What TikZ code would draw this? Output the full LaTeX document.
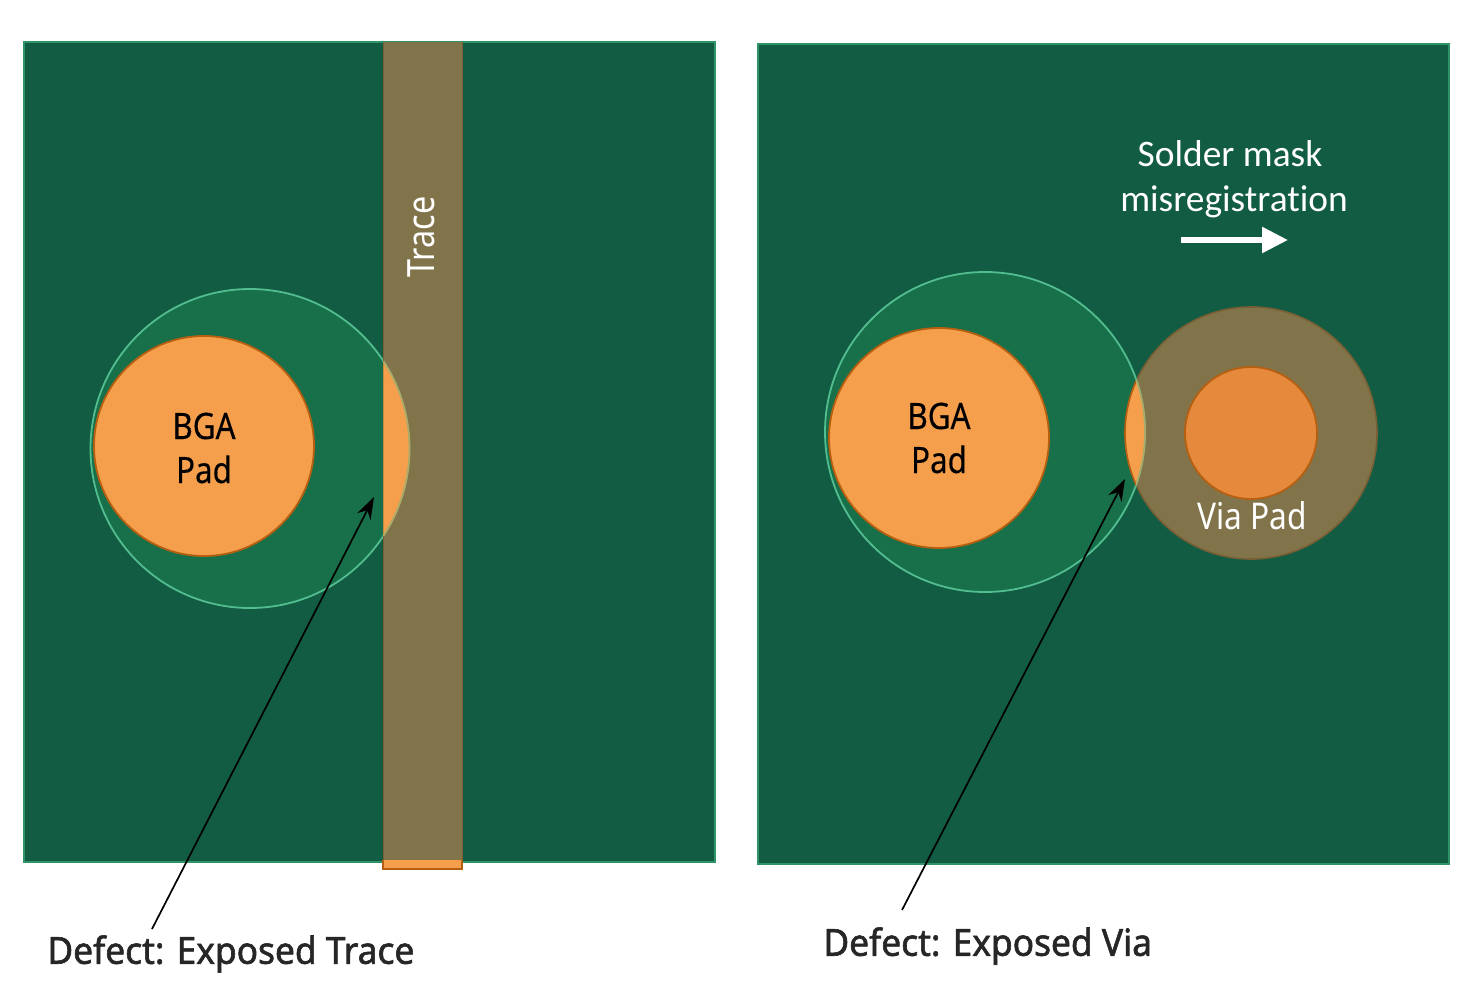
\documentclass[tikz,border=0pt]{standalone}
\usepackage{fontspec}
\setmainfont{Carlito}[Ligatures=NoCommon]
\newfontfamily\padfont{Noto Sans}[FakeStretch=0.86,FakeBold=0.25]
\newfontfamily\whitefont{Noto Sans}[FakeStretch=0.86]
\newfontfamily\labfont{Noto Sans}[FakeStretch=0.95,FakeBold=1.6]
\usetikzlibrary{arrows.meta}
\definecolor{mask}{HTML}{125C44}
\definecolor{maskedge}{HTML}{2F9467}
\definecolor{opening}{HTML}{18704A}
\definecolor{openedge}{HTML}{52BD8F}
\definecolor{copper}{HTML}{F59F4C}
\definecolor{copperedge}{HTML}{B65F10}
\definecolor{covered}{HTML}{82744A}
\definecolor{coverededge}{HTML}{7A5F35}
\definecolor{viacore}{HTML}{E5893C}
\tikzset{
  x=0.5pt,y=-0.5pt,
  maskpanel/.style={fill=mask,draw=maskedge,line width=1.2pt},
  openring/.style={fill=opening,draw=openedge,line width=0.9pt},
  padtxt/.style={font=\padfont\fontsize{18.2}{21}\selectfont,align=center,inner sep=0pt},
  deftxt/.style={font=\labfont\fontsize{18.6}{20}\selectfont,text=black!85,inner sep=0pt,anchor=west},
  calltxt/.style={font=\fontsize{18.7}{23}\selectfont,text=white,inner sep=0pt},
  callout/.style={draw=black,line width=0.85pt,-{Stealth[length=11pt,width=7.5pt]}},
}
\begin{document}
\begin{tikzpicture}
\useasboundingbox (0,0) rectangle (1467,991);
\fill[white] (0,0) rectangle (1467,991);
% left panel
\node[maskpanel,minimum width=345.5pt,minimum height=410pt,inner sep=0pt,anchor=north west] (panelL) at (23,41) {};
\node[openring,circle,minimum size=159.5pt,inner sep=0pt] (openL) at (250,448.5) {};
\fill[covered] (383,42) rectangle (462,860);
\draw[coverededge,line width=0.4pt] (383,42) -- (383,860) (462,42) -- (462,860);
\fill[copper] (383,860) rectangle (462,869);
\draw[copperedge,line width=0.8pt] (383,860) -- (383,869) -- (462,869) -- (462,860);
\fill[copper] plot[domain=-33.2:33.2,samples=40,smooth] ({250+159.5*cos(\x)},{448.5+159.5*sin(\x)}) -- cycle;
\draw[openedge!45!copper,line width=0.9pt] plot[domain=-33.2:33.2,samples=40,smooth] ({250+159.5*cos(\x)},{448.5+159.5*sin(\x)});
\node[circle,fill=copper,draw=copperedge,line width=0.9pt,minimum size=110pt,inner sep=0pt] (padL) at (204,446) {};
\node[padtxt] (padLt) at (204,448) {BGA\\[1pt]Pad};
\node[rotate=90,font=\whitefont\fontsize{18.8}{20}\selectfont,text=white,inner sep=0pt] (traceT) at (421,237) {Trace};
% right panel
\node[maskpanel,minimum width=345.5pt,minimum height=410pt,inner sep=0pt,anchor=north west] (panelR) at (757,43) {};
\node[circle,fill=covered,draw=coverededge,line width=0.8pt,minimum size=126pt,inner sep=0pt] (viaO) at (1251,433) {};
\node[openring,circle,minimum size=160pt,inner sep=0pt] (openR) at (985,432) {};
\begin{scope}
  \clip (985,432) circle[radius=160];
  \fill[copper,draw=copperedge,line width=0.8pt] (1251,433) circle[radius=126];
\end{scope}
\begin{scope}
  \clip (1251,433) circle[radius=126];
  \draw[openedge!45!copper,line width=0.9pt] (985,432) circle[radius=160];
\end{scope}
\node[circle,fill=viacore,draw=copperedge,line width=0.9pt,minimum size=66pt,inner sep=0pt] (viaI) at (1251,433) {};
\node[circle,fill=copper,draw=copperedge,line width=0.9pt,minimum size=110pt,inner sep=0pt] (padR) at (939,438) {};
\node[padtxt] (padRt) at (939,438) {BGA\\[1pt]Pad};
\node[font=\whitefont\fontsize{18.4}{20}\selectfont,text=white,inner sep=0pt] (viaT) at (1252,516) {Via Pad};
\node[calltxt] (misT1) at (1230,154) {Solder mask};
\node[calltxt] (misT2) at (1234,202) {misregistration};
\coordinate (misA) at (1181,240);
\coordinate (misB) at (1288,240);
\draw[white,line width=2.8pt,-{Triangle[length=13pt,width=12.5pt]}] (misA) -- (misB);
% defects
\node[deftxt] (defL) at (47,954) {Defect: Exposed Trace};
\node[deftxt] (defR) at (823,946) {Defect: Exposed Via};
\coordinate (defLs) at (152,929);
\coordinate (defLe) at (374,497);
\coordinate (defRs) at (902,910);
\coordinate (defRe) at (1125,479);
\draw[callout] (defLs) -- (defLe);
\draw[callout] (defRs) -- (defRe);
\end{tikzpicture}
\end{document}
